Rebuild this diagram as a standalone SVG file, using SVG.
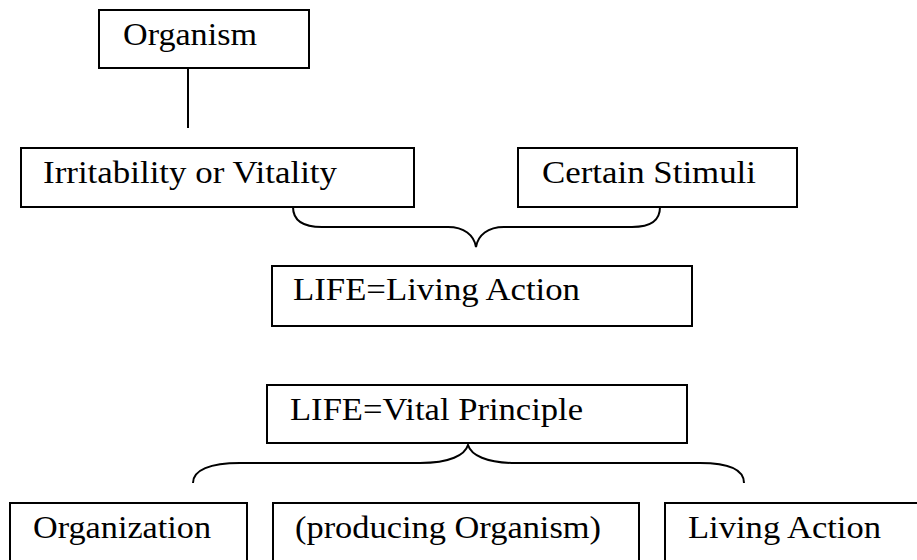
<svg xmlns="http://www.w3.org/2000/svg" width="917" height="560" viewBox="0 0 917 560">
<style>
.box{fill:#fff;stroke:#000;stroke-width:2}
.lbl{font-family:"Liberation Serif","Times New Roman",serif;font-size:31px;fill:#000}
.con{fill:none;stroke:#000;stroke-width:2}
</style>
<rect width="917" height="560" fill="#fff"/>
<g id="connectors">
<line class="con" x1="188" y1="68" x2="188" y2="128"/>
<path class="con" d="M293,207 C293,220 302,227 322,227 L448,227 C464,227 474,235 476,247 C478,235 488,227 504,227 L632,227 C652,227 660,220 660,207"/>
<path class="con" d="M193,483 C193,470 210,463 240,463 L420,463 C450,463 465,455 468,445 C471,455 486,463 516,463 L700,463 C730,463 744,470 744,483"/>
</g>
<g id="organism"><rect class="box" x="99" y="10" width="210" height="58"/><text class="lbl" x="123" y="45" textLength="134" lengthAdjust="spacingAndGlyphs">Organism</text></g>
<g id="irritability"><rect class="box" x="21" y="148" width="393" height="59"/><text class="lbl" x="43" y="183" textLength="294" lengthAdjust="spacingAndGlyphs">Irritability or Vitality</text></g>
<g id="stimuli"><rect class="box" x="518" y="148" width="279" height="59"/><text class="lbl" x="542" y="183" textLength="214" lengthAdjust="spacingAndGlyphs">Certain Stimuli</text></g>
<g id="life-action"><rect class="box" x="272" y="266" width="420" height="60"/><text class="lbl" x="293" y="300" textLength="287" lengthAdjust="spacingAndGlyphs">LIFE=Living Action</text></g>
<g id="life-vital"><rect class="box" x="267" y="385" width="420" height="58"/><text class="lbl" x="290" y="420" textLength="293" lengthAdjust="spacingAndGlyphs">LIFE=Vital Principle</text></g>
<g id="organization"><path class="box" d="M10,562 V503 H247 V562"/><text class="lbl" x="33" y="538" textLength="178" lengthAdjust="spacingAndGlyphs">Organization</text></g>
<g id="producing"><path class="box" d="M273,562 V503 H639 V562"/><text class="lbl" x="295" y="538" textLength="306" lengthAdjust="spacingAndGlyphs">(producing Organism)</text></g>
<g id="living-action"><path class="box" d="M665,562 V503 H919"/><text class="lbl" x="688" y="538" textLength="193" lengthAdjust="spacingAndGlyphs">Living Action</text></g>
</svg>
